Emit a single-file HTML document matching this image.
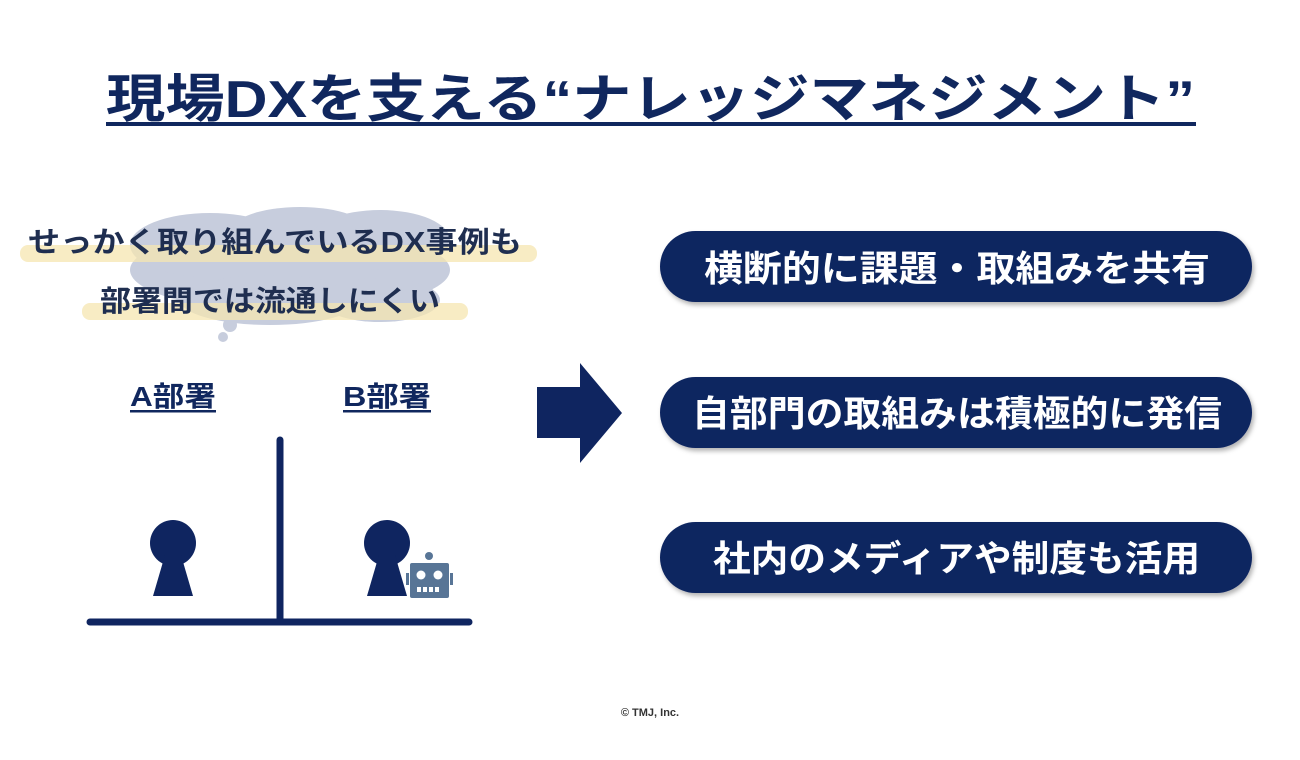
<!DOCTYPE html>
<html><head><meta charset="utf-8">
<style>
html,body{margin:0;padding:0;background:#fff;}
svg{display:block;}
text{font-family:"Liberation Sans","Noto Sans CJK JP",sans-serif;font-weight:bold;}
</style></head>
<body>
<svg width="1300" height="760" viewBox="0 0 1300 760" xmlns="http://www.w3.org/2000/svg">
<defs>
<filter id="sh" x="-5%" y="-20%" width="110%" height="150%">
<feDropShadow dx="2" dy="3" stdDeviation="2.5" flood-color="#000" flood-opacity="0.3"/>
</filter>
</defs>
<!-- Title -->
<text x="106" y="117" font-size="52" fill="#10275e" textLength="1089" lengthAdjust="spacingAndGlyphs">現場DXを支える“ナレッジマネジメント”</text>
<rect x="106" y="122" width="1090" height="4" fill="#10275e"/>

<!-- cloud -->
<g fill="#c7cddd">
<ellipse cx="290" cy="270" rx="160" ry="42"/>
<ellipse cx="210" cy="245" rx="80" ry="32"/>
<ellipse cx="300" cy="232" rx="70" ry="25"/>
<ellipse cx="380" cy="240" rx="70" ry="30"/>
<ellipse cx="270" cy="300" rx="90" ry="25"/>
<ellipse cx="380" cy="300" rx="60" ry="22"/>
<circle cx="230" cy="325" r="7"/>
<circle cx="223" cy="337" r="5"/>
</g>
<!-- highlights -->
<rect x="20" y="245" width="517" height="17" rx="8" fill="#f6e6b0" opacity="0.75"/>
<rect x="82" y="303" width="386" height="17" rx="8" fill="#f6e6b0" opacity="0.75"/>
<text x="28" y="252" font-size="29" fill="#1f2e50" textLength="494" lengthAdjust="spacingAndGlyphs">せっかく取り組んでいるDX事例も</text>
<text x="100" y="311" font-size="29" fill="#1f2e50" textLength="340" lengthAdjust="spacingAndGlyphs">部署間では流通しにくい</text>

<!-- departments -->
<text x="130" y="406" font-size="28" fill="#10275e" textLength="86" lengthAdjust="spacingAndGlyphs">A部署</text>
<rect x="130" y="410" width="86" height="2.5" fill="#10275e"/>
<text x="343" y="406" font-size="28" fill="#10275e" textLength="88" lengthAdjust="spacingAndGlyphs">B部署</text>
<rect x="343" y="410" width="88" height="2.5" fill="#10275e"/>

<line x1="280" y1="440" x2="280" y2="620" stroke="#0f2560" stroke-width="7" stroke-linecap="round"/>
<line x1="90" y1="622" x2="469" y2="622" stroke="#0f2560" stroke-width="7" stroke-linecap="round"/>

<g fill="#0f2560">
<circle cx="173" cy="543" r="23"/>
<polygon points="165,555 181,555 193,596 153,596"/>
<circle cx="387" cy="543" r="23"/>
<polygon points="379,555 395,555 407,596 367,596"/>
</g>
<!-- robot -->
<g fill="#587596">
<circle cx="429" cy="556" r="4"/>
<rect x="410" y="563" width="39" height="35" rx="2"/>
<rect x="406" y="573" width="3" height="12"/>
<rect x="450" y="573" width="3" height="12"/>
</g>
<g fill="#fff">
<circle cx="421" cy="575" r="4.5"/>
<circle cx="438" cy="575" r="4.5"/>
<rect x="417" y="587" width="4" height="5"/>
<rect x="423" y="587" width="4" height="5"/>
<rect x="429" y="587" width="4" height="5"/>
<rect x="435" y="587" width="4" height="5"/>
</g>

<!-- arrow -->
<polygon points="537,387 580,387 580,363 622,413 580,463 580,438 537,438" fill="#0f2560"/>

<!-- pills -->
<g filter="url(#sh)" fill="#0f2560">
<rect x="660" y="231" width="592" height="71" rx="35.5"/>
<rect x="660" y="377" width="592" height="71" rx="35.5"/>
<rect x="660" y="522" width="592" height="71" rx="35.5"/>
</g>
<g fill="#fff" font-size="36">
<text x="704" y="281" textLength="506" lengthAdjust="spacingAndGlyphs">横断的に課題・取組みを共有</text>
<text x="692" y="426" textLength="530" lengthAdjust="spacingAndGlyphs">自部門の取組みは積極的に発信</text>
<text x="713" y="571" textLength="487" lengthAdjust="spacingAndGlyphs">社内のメディアや制度も活用</text>
</g>

<text x="650" y="716" font-size="11" fill="#333" text-anchor="middle">© TMJ, Inc.</text>
</svg>
</body></html>
